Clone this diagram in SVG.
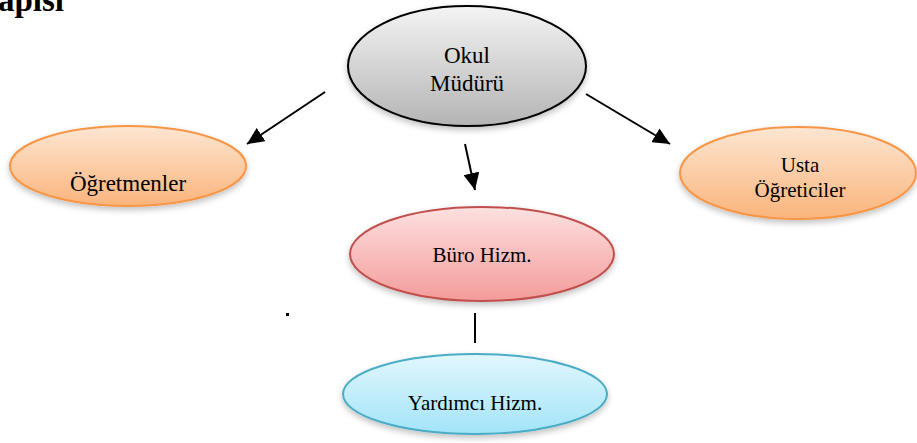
<svg xmlns="http://www.w3.org/2000/svg" width="917" height="443" viewBox="0 0 917 443">
<defs>
<style>
text{font-family:"Liberation Serif","Times New Roman",serif;fill:#000;text-anchor:middle}
.conn line{stroke:#000;stroke-width:2}
</style>
<linearGradient id="gGray" x1="0" y1="0" x2="0" y2="1"><stop offset="0" stop-color="#f4f4f4"/><stop offset="1" stop-color="#b4b4b4"/></linearGradient>
<linearGradient id="gOrange" x1="0" y1="0" x2="0" y2="1"><stop offset="0" stop-color="#fde6d2"/><stop offset="1" stop-color="#fab47c"/></linearGradient>
<linearGradient id="gRed" x1="0" y1="0" x2="0" y2="1"><stop offset="0" stop-color="#fde0e0"/><stop offset="1" stop-color="#f39c9a"/></linearGradient>
<linearGradient id="gBlue" x1="0" y1="0" x2="0" y2="1"><stop offset="0" stop-color="#e2f7fd"/><stop offset="1" stop-color="#a2e4f8"/></linearGradient>
<filter id="sh" x="-10%" y="-10%" width="120%" height="130%">
<feGaussianBlur in="SourceAlpha" stdDeviation="3"/>
<feOffset dx="0" dy="3" result="b"/>
<feComponentTransfer><feFuncA type="linear" slope="0.25"/></feComponentTransfer>
<feMerge><feMergeNode/><feMergeNode in="SourceGraphic"/></feMerge>
</filter>
<marker id="ah" markerUnits="userSpaceOnUse" markerWidth="18" markerHeight="16" refX="17" refY="8" orient="auto">
<path d="M0,0 L17,8 L0,16 z" fill="#000"/>
</marker>
</defs>
<rect width="917" height="443" fill="#fff"/>
<text x="-2" y="11" style="font-weight:bold;font-size:33px;text-anchor:start">apısı</text>

<g class="conn" id="connectors">
<line x1="325" y1="92" x2="247" y2="144" marker-end="url(#ah)"/>
<line x1="465" y1="144" x2="475" y2="190" marker-end="url(#ah)"/>
<line x1="586" y1="94" x2="670" y2="144" marker-end="url(#ah)"/>
<line x1="475" y1="313" x2="475" y2="343"/>
</g>

<g id="okul">
<ellipse cx="467" cy="66" rx="119" ry="60" fill="url(#gGray)" stroke="#000" stroke-width="2" filter="url(#sh)"/>
<text x="467" y="63" style="font-size:23px">Okul</text>
<text x="467" y="91" style="font-size:23px">Müdürü</text>
</g>

<g id="ogretmenler">
<ellipse cx="128" cy="166" rx="118" ry="40" fill="url(#gOrange)" stroke="#f79646" stroke-width="2" filter="url(#sh)"/>
<text x="128" y="191" style="font-size:23px">Öğretmenler</text>
</g>

<g id="usta">
<ellipse cx="798" cy="173" rx="118" ry="46" fill="url(#gOrange)" stroke="#f79646" stroke-width="2" filter="url(#sh)"/>
<text x="800" y="172" style="font-size:21px">Usta</text>
<text x="800" y="197" style="font-size:21px">Öğreticiler</text>
</g>

<g id="buro">
<ellipse cx="482" cy="254" rx="132" ry="47" fill="url(#gRed)" stroke="#c0504d" stroke-width="2" filter="url(#sh)"/>
<text x="482" y="262" style="font-size:21px">Büro Hizm.</text>
</g>

<g id="yardimci">
<ellipse cx="475" cy="394" rx="132" ry="40" fill="url(#gBlue)" stroke="#4bacc6" stroke-width="2" filter="url(#sh)"/>
<text x="475" y="410" style="font-size:21px">Yardımcı Hizm.</text>
</g>

<rect x="286" y="313" width="3" height="3" fill="#000"/>
</svg>
